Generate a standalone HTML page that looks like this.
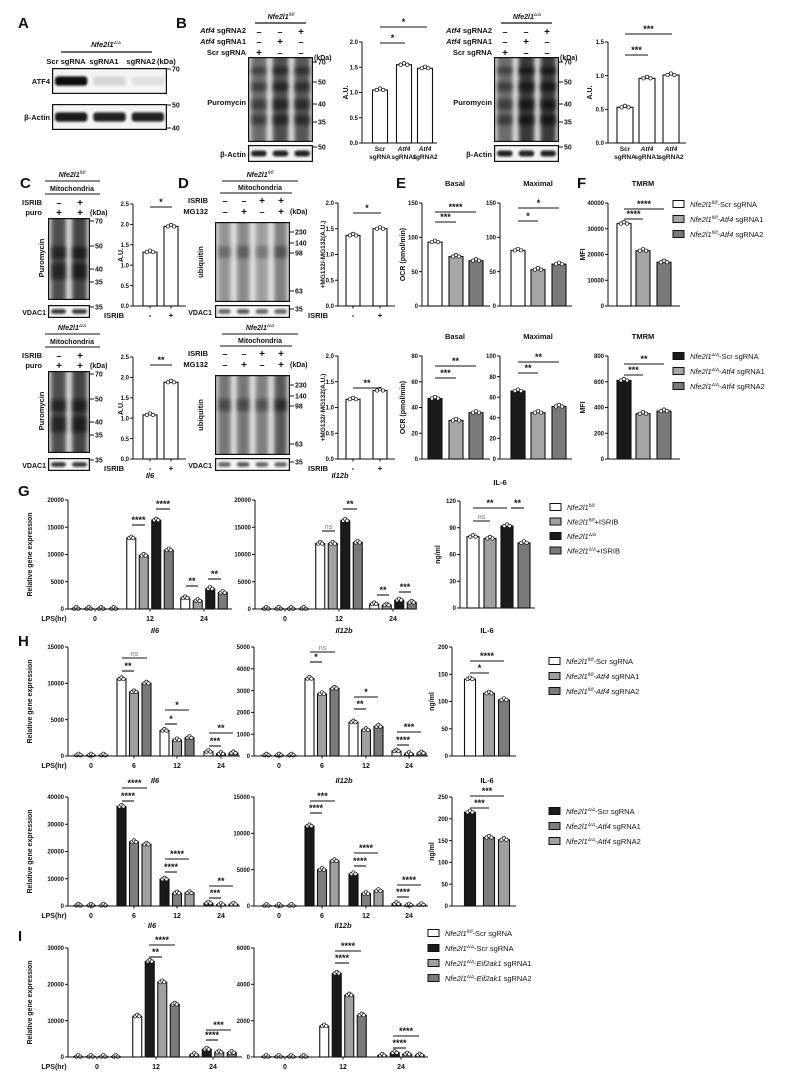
<!DOCTYPE html>
<html><head><meta charset="utf-8">
<style>body{margin:0;background:#fff}svg{display:block;font-family:"Liberation Sans",Arial,sans-serif}</style>
</head><body>
<svg id="fig" width="786" height="1084" viewBox="0 0 786 1084" xmlns="http://www.w3.org/2000/svg">
<defs>
<filter id="bl" x="-30%" y="-80%" width="160%" height="260%"><feGaussianBlur stdDeviation="2"/></filter>
<filter id="bl1" x="-30%" y="-80%" width="160%" height="260%"><feGaussianBlur stdDeviation="1"/></filter>
</defs>
</svg>
<script>
// ---------------- DATA ----------------
const tB1=[0,0.5,1.0,1.5,2.0]; const tB1L=['0.0','0.5','1.0','1.5','2.0'];
const tB2=[0,0.5,1.0,1.5]; const tB2L=['0.0','0.5','1.0','1.5'];
const tC=[0,0.5,1.0,1.5,2.0,2.5]; const tCL=['0.0','0.5','1.0','1.5','2.0','2.5'];
const catsB=['Scr sgRNA','Atf4 sgRNA1','Atf4 sgRNA2'];
const valsB1=[1.05,1.55,1.48];
const valsB2=[0.53,0.96,1.01];
const catsISRIB=['-','+'];
const valsCtop=[1.32,1.95];
const valsCbot=[1.08,1.88];
const valsDtop=[1.37,1.50];
const valsDbot=[1.16,1.33];
const tE150=[0,50,100,150]; const tE80=[0,20,40,60,80]; const tE100=[0,20,40,60,80,100];
const tF40k=[0,10000,20000,30000,40000]; const tF800=[0,200,400,600,800];
const valsBasalTop=[93,72,66], valsMaxTop=[81,53,61], valsTmrmTop=[32000,21500,17000];
const valsBasalBot=[47,30,36], valsMaxBot=[66,45,51], valsTmrmBot=[610,352,372];
const catsG=['0','12','24'];
const gIl6=[[50,13000,2000],[50,9800,1500],[50,16300,3700],[50,10800,3000]];
const gIl12b=[[50,12000,900],[50,12000,700],[50,16200,1600],[50,12200,1200]];
const gIL6=[80,78,92,73];
const t20k=[0,5000,10000,15000,20000]; const t120=[0,30,60,90,120];
const catsH=['0','6','12','24'];
const hTopIl6=[[100,10600,3500,600],[100,8800,2200,300],[100,10000,2500,400]];
const hTopIl12b=[[30,3550,1550,220],[30,2850,1200,100],[30,3100,1350,130]];
const hTopIL6=[141,115,103];
const hBotIl6=[[200,36500,9800,1000],[200,23500,4700,500],[200,22600,4800,600]];
const hBotIl12b=[[50,11000,4400,300],[50,5000,1700,100],[50,6200,2100,150]];
const hBotIL6=[215,157,152];
const t15k=[0,5000,10000,15000]; const t5k=[0,1000,2000,3000,4000,5000]; const t200=[0,50,100,150,200];
const t40k=[0,10000,20000,30000,40000]; const t250=[0,50,100,150,200,250];
const iIl6=[[100,11200,600],[100,26300,2100],[100,20600,1300],[100,14500,1200]];
const iIl12b=[[20,1700,80],[20,4600,230],[20,3400,150],[20,2300,100]];
const t30k=[0,10000,20000,30000]; const t6k=[0,2000,4000,6000];

// ---------------- HELPERS ----------------
const NS='http://www.w3.org/2000/svg';
const root=document.getElementById('fig');
function mk(tag,attrs,parent){const e=document.createElementNS(NS,tag);for(const k in attrs)e.setAttribute(k,attrs[k]);(parent||root).appendChild(e);return e;}
function txt(x,y,s,size,anchor,name,opt){
  opt=opt||{};
  const e=mk('text',{x:x,y:y,'font-size':size,'text-anchor':anchor||'start','font-weight':opt.w||'bold',fill:opt.fill||'#111'});
  e.innerHTML=s;
  if(opt.rot) e.setAttribute('transform','rotate(-90 '+x+' '+y+')');
  if(opt.it) e.setAttribute('font-style','italic');
  
  
  return e;
}
function gene(sup,rest){return '<tspan font-style="italic">Nfe2l1</tspan><tspan font-size="4.5" dy="-3" font-style="italic" font-weight="normal">'+sup+'</tspan><tspan dy="3">'+(rest||'')+'</tspan>';}
function line(x1,y1,x2,y2,name,sw,col){const e=mk('line',{x1:x1,y1:y1,x2:x2,y2:y2,stroke:col||'#111','stroke-width':sw||1});
  
  return e;}
function fmt(v){return String(v);}

function barChart(c){
  const g=mk('g',{});
  
  
  const y=v=>c.yBot-(v/c.max)*(c.yBot-c.yTop);
  line(c.ax,c.yTop,c.ax,c.yBot,'y-axis',1);
  line(c.ax,c.yBot,c.xEnd,c.yBot,'x-axis',1);
  c.ticks.forEach((t,i)=>{
    line(c.ax-3,y(t),c.ax,y(t),'y-tick',1);
    txt(c.ax-4,y(t)+2.2,c.tickLabels?c.tickLabels[i]:fmt(t),6,'end','y-tick-label');
  });
  const n=c.series.length;
  c.series.forEach((vals,si)=>{
    vals.forEach((v,ci)=>{
      const cx=c.centers[ci]+(si-(n-1)/2)*(c.step||0);
      const col=c.colorByCat?c.colors[ci]:c.colors[si];
      const yy=y(v);
      const r=mk('rect',{x:cx-c.bw/2,y:yy,width:c.bw,height:Math.max(0.5,c.yBot-yy),fill:col,stroke:'#111','stroke-width':1.1},g);
      
      
      [-2.6,0,2.6].forEach((dx,k)=>{
        const d=mk('circle',{cx:cx+dx*(c.bw/12),cy:yy-(k===1?1.5:0),r:1.7,fill:'#fff',stroke:'#111','stroke-width':0.7},g);
        
        
      });
    });
  });
  if(c.catLabels) c.catLabels.forEach((l,ci)=>{
    line(c.centers[ci],c.yBot,c.centers[ci],c.yBot+2.5,'x-tick',1);
    txt(c.centers[ci],c.yBot+12,l,c.catSize||7,'middle','x-tick-label');
  });
  if(c.title) txt(c.titleX,c.titleY,c.title,7.5,'middle','chart-title',{it:c.titleIt});
  if(c.ylabel) txt(c.ylabelX,(c.yTop+c.yBot)/2,c.ylabel,c.ylabelSize||7,'middle','y-axis-title',{rot:1});
  if(c.lps) txt(c.ax-14,c.yBot+12,'LPS(hr)',7,'middle','x-axis-title');
}
function sig(x1,x2,y,s,gray){line(x1,y,x2,y,'significance-bar',1.1);txt((x1+x2)/2,y-2,s,gray?7:9,'middle','significance-label',{fill:gray?'#777':'#111',w:gray?'normal':'bold'});}
function kda(x,y,l){line(x,y,x+4,y,'kda-tick',1);txt(x+5,y+2.5,l,7,'start','kda-label');}
function blot(name,x,y,w,h,n,kind,intens,bands){
  const s=mk('svg',{x:x,y:y,width:w,height:h});
  
  
  mk('rect',{x:0,y:0,width:w,height:h,fill:kind==='band'?'#f4f4f4':'#e6e6e6'},s);
  const lw=w/n;
  for(let i=0;i<n;i++){
    const lx=i*lw;
    if(kind==='smear'){
      mk('rect',{x:lx+3,y:-4,width:lw-6,height:h+8,fill:'#1a1a1a',opacity:intens[i],filter:'url(#bl)'},s);
      (bands||[]).forEach(b=>mk('rect',{x:lx+3,y:b[0]*h,width:lw-6,height:b[1]*h,fill:'#000',opacity:intens[i]*0.7,filter:'url(#bl)'},s));
    }else{
      mk('rect',{x:lx+3,y:h*0.32,width:lw-6,height:h*0.36,fill:'#111',opacity:intens[i],filter:'url(#bl1)',rx:3},s);
    }
  }
  mk('rect',{x:0.6,y:0.6,width:w-1.2,height:h-1.2,fill:'none',stroke:'#111','stroke-width':1.2},s);
}
function signRow(xs,y,arr){arr.forEach((s,i)=>txt(xs[i],y,s==='+'?'+':'–',s==='+'?10:9,'middle','sign'));}

// ---------------- PANEL LETTERS ----------------
[['A',18,28],['B',176,28],['C',20,188],['D',178,188],['E',396,188],['F',577,188],['G',18,496],['H',18,646],['I',18,941]].forEach(p=>txt(p[1],p[2],p[0],15,'start','panel-letter-'+p[0].toLowerCase()));

// ---------------- A ----------------
txt(106,47,gene('Δ/Δ'),7.5,'middle','a-genotype-title');
line(61,52,152,52,'a-title-bar',1.2);
txt(66,64,'Scr sgRNA',7.5,'middle','lane-label');txt(104,64,'sgRNA1',7.5,'middle','lane-label');txt(141,64,'sgRNA2',7.5,'middle','lane-label');txt(157,64,'(kDa)',7.5,'start','kda-unit');
blot('atf4-blot',52,68,115,26,3,'band',[1,0.12,0.08]);
blot('actin-blot-a',52,104,115,26,3,'band',[0.95,0.9,0.9]);
txt(50,84,'ATF4',7.5,'end','row-label');txt(50,120,'β-Actin',7.5,'end','row-label');
kda(167,69,'70');kda(167,105,'50');kda(167,128,'40');

// ---------------- B blots ----------------
function bBlot(x,title,vals){
  txt(x+33,19,gene(title),7,'middle','b-genotype-title');
  line(x+7,23,x+58,23,'b-title-bar',1.2);
  const xs=[x+11,x+32,x+53];
  txt(x-2,33,'<tspan font-style="italic">Atf4</tspan> sgRNA2',7.5,'end','row-label');
  txt(x-2,44,'<tspan font-style="italic">Atf4</tspan> sgRNA1',7.5,'end','row-label');
  txt(x-2,55,'Scr sgRNA',7.5,'end','row-label');
  signRow(xs,35,['-','-','+']);signRow(xs,45,['-','+','-']);signRow(xs,56,['+','-','-']);
  txt(x+66,60,'(kDa)',7,'start','kda-unit');
  blot('puromycin-blot',x,57,65,85,3,'smear',vals,[[0.12,0.08],[0.3,0.1],[0.5,0.12],[0.68,0.12]]);
  blot('actin-blot-b',x,145,65,17,3,'band',[0.9,0.9,0.9]);
  txt(x-2,105,'Puromycin',7.5,'end','row-label');txt(x-2,157,'β-Actin',7.5,'end','row-label');
  kda(x+65,62,'70');kda(x+65,82,'50');kda(x+65,104,'40');kda(x+65,122,'35');kda(x+65,147,'50');
}
bBlot(248,'fl/fl',[0.6,0.75,0.7]);
bBlot(494,'Δ/Δ',[0.6,0.85,0.85]);
function bLabels(cs){cs.forEach((cx,i)=>{txt(cx,151,i===0?'Scr':'<tspan font-style="italic">Atf4</tspan>',6.5,'middle','x-tick-label');txt(cx,159,i===0?'sgRNA':'sgRNA'+i,6.5,'middle','x-tick-label');});}
barChart({name:'b-chart-fl',ax:362,xEnd:437,yTop:42,yBot:143,max:2.0,ticks:tB1,tickLabels:tB1L,centers:[380,404,425],bw:15,series:[valsB1],colors:['#fff','#fff','#fff'],colorByCat:true,ylabel:'A.U.',ylabelX:348});
bLabels([380,404,425]);
sig(380,427,27,'*');sig(380,405,43,'*');
barChart({name:'b-chart-dd',ax:608,xEnd:686,yTop:42,yBot:143,max:1.5,ticks:tB2,tickLabels:tB2L,centers:[625,647,671],bw:16,series:[valsB2],colors:['#fff','#fff','#fff'],colorByCat:true,ylabel:'A.U.',ylabelX:592});
bLabels([625,647,671]);
sig(625,672,34,'***');sig(625,648,55,'***');

// ---------------- C & D ----------------
function cdRow(dy,sup,cv,dv,cs,ds){
  txt(72,177+dy,gene(sup),7,'middle','c-genotype-title');line(45,181+dy,100,181+dy,'title-bar',1.1);
  txt(72,191+dy,'Mitochondria',7,'middle','c-fraction-title');line(45,194+dy,100,194+dy,'title-bar',1.1);
  txt(42,205+dy,'ISRIB',7.5,'end','row-label');txt(42,215+dy,'puro',7.5,'end','row-label');
  signRow([59,80],206+dy,['-','+']);signRow([59,80],216+dy,['+','+']);
  txt(90,215+dy,'(kDa)',7,'start','kda-unit');
  blot('c-puromycin-blot',48,218+dy,42,82,2,'smear',[0.75,0.8],[[0.35,0.15],[0.55,0.2]]);
  blot('c-vdac1-blot',48,305+dy,42,13,2,'band',[0.8,0.8]);
  txt(44,258+dy,'Puromycin',7.5,'middle','row-label',{rot:1});
  txt(46,315+dy,'VDAC1',7,'end','row-label');
  kda(90,221+dy,'70');kda(90,246+dy,'50');kda(90,269+dy,'40');kda(90,282+dy,'35');kda(90,307+dy,'35');
  barChart({name:'c-chart',ax:133,xEnd:186,yTop:204+dy,yBot:306+dy,max:2.5,ticks:tC,tickLabels:tCL,centers:[150,171],bw:14,series:[cv],colors:['#fff','#fff'],colorByCat:true,catLabels:catsISRIB,catSize:8,ylabel:'A.U.',ylabelX:123});
  txt(104,318+dy,'ISRIB',7.5,'start','x-axis-title');
  sig(150,172,207+dy+(dy?5:0),cs);
  txt(260,177+dy,gene(sup),7,'middle','d-genotype-title');line(222,181+dy,298,181+dy,'title-bar',1.1);
  txt(260,190+dy,'Mitochondria',7,'middle','d-fraction-title');line(220,193+dy,292,193+dy,'title-bar',1.1);
  txt(208,203+dy,'ISRIB',7.5,'end','row-label');txt(208,214+dy,'MG132',7.5,'end','row-label');
  signRow([225,244,262,281],204+dy,['-','-','+','+']);signRow([225,244,262,281],215+dy,['-','+','-','+']);
  txt(290,214+dy,'(kDa)',7,'start','kda-unit');
  blot('d-ubiquitin-blot',215,222+dy,75,80,4,'smear',dy?[0.55,0.55,0.5,0.7]:[0.4,0.45,0.35,0.5],[[0.3,0.15]]);
  blot('d-vdac1-blot',215,305+dy,75,13,4,'band',[0.6,0.65,0.6,0.6]);
  txt(203,262+dy,'ubiquitin',7.5,'middle','row-label',{rot:1});
  txt(212,315+dy,'VDAC1',7,'end','row-label');
  kda(290,232+dy,'230');kda(290,243+dy,'140');kda(290,253+dy,'98');kda(290,291+dy,'63');kda(290,309+dy,'35');
  barChart({name:'d-chart',ax:338,xEnd:395,yTop:203+dy,yBot:306+dy,max:2.0,ticks:tB1,tickLabels:tB1L,centers:[353,380],bw:14,series:[dv],colors:['#fff','#fff'],colorByCat:true,catLabels:catsISRIB,catSize:8,ylabel:'+MG132/-MG132(A.U.)',ylabelX:325,ylabelSize:6.5});
  txt(308,318+dy,'ISRIB',7.5,'start','x-axis-title');
  sig(353,381,dy?235+dy:213+dy,ds);
}
cdRow(0,'fl/fl',valsCtop,valsDtop,'*','*');
cdRow(153,'Δ/Δ',valsCbot,valsDbot,'**','**');

// ---------------- E & F ----------------
const cTop=['#fff','#a6a6a6','#7a7a7a'], cBot=['#1a1a1a','#a6a6a6','#7a7a7a'];
function efRow(dy,cols,basal,maxi,tm,tb,tm2,tt){
  barChart({name:'e-basal-chart',ax:422,xEnd:490,yTop:203+dy,yBot:306+dy,max:tb[tb.length-1],ticks:tb,centers:[435,456,476],bw:14,series:[basal],colors:cols,colorByCat:true,ylabel:'OCR (pmol/min)',ylabelX:405,title:'Basal',titleX:455,titleY:186+dy});
  barChart({name:'e-maximal-chart',ax:500,xEnd:572,yTop:203+dy,yBot:306+dy,max:tm2[tm2.length-1],ticks:tm2,centers:[518,538,559],bw:14,series:[maxi],colors:cols,colorByCat:true,title:'Maximal',titleX:538,titleY:186+dy});
  barChart({name:'f-tmrm-chart',ax:608,xEnd:680,yTop:203+dy,yBot:306+dy,max:tt[tt.length-1],ticks:tt,centers:[624,643,664],bw:14,series:[tm],colors:cols,colorByCat:true,ylabel:'MFI',ylabelX:585,title:'TMRM',titleX:643,titleY:186+dy});
}
efRow(0,cTop,valsBasalTop,valsMaxTop,valsTmrmTop,tE150,tE150,tF40k);
efRow(153,cBot,valsBasalBot,valsMaxBot,valsTmrmBot,tE80,tE100,tF800);
sig(435,476,212,'****');sig(435,456,222,'***');sig(518,559,208,'*');sig(518,538,221,'*');sig(624,664,209,'****');sig(624,643,219,'****');
sig(435,476,366,'**');sig(435,456,378,'***');sig(518,559,362,'**');sig(518,538,373,'**');sig(624,664,364,'**');sig(624,643,375,'***');

function legend(x,y0,dy,items,cols,name){
  items.forEach((s,i)=>{
    const r=mk('rect',{x:x,y:y0+i*dy-3.5,width:11,height:7,fill:cols[i],stroke:'#111','stroke-width':1});
    
    
    txt(x+17,y0+i*dy+3,s,7.5,'start',name+'-entry',{w:'normal'});
  });
}
const atf=(sup,n)=>gene(sup,'-<tspan font-style="italic">Atf4</tspan> sgRNA'+n);
legend(673,204,15,[gene('fl/fl','-Scr sgRNA'),atf('fl/fl',1),atf('fl/fl',2)],cTop,'legend-ef-top');
legend(673,356,15,[gene('Δ/Δ','-Scr sgRNA'),atf('Δ/Δ',1),atf('Δ/Δ',2)],cBot,'legend-ef-bottom');

// ---------------- G ----------------
const cG=['#fff','#a0a0a0','#1a1a1a','#7a7a7a'];
barChart({name:'g-il6-chart',ax:68,xEnd:232,yTop:500,yBot:609,max:20000,ticks:t20k,centers:[95,150,204],bw:9,step:12.5,series:gIl6,colors:cG,catLabels:catsG,title:'Il6',titleIt:1,titleX:150,titleY:478,ylabel:'Relative gene expression',ylabelX:32,lps:1});
barChart({name:'g-il12b-chart',ax:255,xEnd:412,yTop:500,yBot:609,max:20000,ticks:t20k,centers:[285,339,393],bw:9,step:12.5,series:gIl12b,colors:cG,catLabels:catsG,title:'Il12b',titleIt:1,titleX:340,titleY:478});
barChart({name:'g-il6-elisa-chart',ax:460,xEnd:535,yTop:501,yBot:608,max:120,ticks:t120,centers:[473,490,507,524],bw:12,series:[gIL6],colors:cG,colorByCat:true,title:'IL-6',titleX:500,titleY:485,ylabel:'ng/ml',ylabelX:440});
sig(132,145,525,'****');sig(156,170,509,'****');sig(186,198,586,'**');sig(208,221,579,'**');
sig(322,335,531,'ns',1);sig(343,357,509,'**');sig(377,389,595,'**');sig(399,411,592,'***');
sig(473,490,521,'ns',1);sig(473,507,508,'**');sig(511,524,508,'**');
legend(550,507,14.5,[gene('fl/fl'),gene('fl/fl','+ISRIB'),gene('Δ/Δ'),gene('Δ/Δ','+ISRIB')],cG,'legend-g');

// ---------------- H ----------------
const cHt=['#fff','#a0a0a0','#7a7a7a'], cHb=['#1a1a1a','#7e7e7e','#a0a0a0'];
function hRow(dy,cols,il6,il12,elisa,ta,tb,tc){
  barChart({name:'h-il6-chart',ax:68,xEnd:240,yTop:647+dy,yBot:756+dy,max:ta[ta.length-1],ticks:ta,centers:[91,134,177,221],bw:9,step:12.5,series:il6,colors:cols,catLabels:catsH,title:'Il6',titleIt:1,titleX:155,titleY:633+dy,ylabel:'Relative gene expression',ylabelX:32,lps:1});
  barChart({name:'h-il12b-chart',ax:254,xEnd:428,yTop:647+dy,yBot:756+dy,max:tb[tb.length-1],ticks:tb,centers:[279,322,366,409],bw:9,step:12.5,series:il12,colors:cols,catLabels:catsH,title:'Il12b',titleIt:1,titleX:344,titleY:633+dy});
  barChart({name:'h-il6-elisa-chart',ax:452,xEnd:516,yTop:647+dy,yBot:756+dy,max:tc[tc.length-1],ticks:tc,centers:[470,489,504],bw:11,series:[elisa],colors:cols,colorByCat:true,title:'IL-6',titleX:487,titleY:633+dy,ylabel:'ng/ml',ylabelX:434});
}
hRow(0,cHt,hTopIl6,hTopIl12b,hTopIL6,t15k,t5k,t200);
hRow(150,cHb,hBotIl6,hBotIl12b,hBotIL6,t40k,t15k,t250);
sig(122,134,671,'**');sig(122,147,658,'ns',1);sig(165,177,724,'*');sig(165,189,710,'*');sig(209,221,746,'***');sig(209,233,733,'**');
sig(310,322,662,'*');sig(310,335,652,'ns',1);sig(354,366,709,'**');sig(354,378,697,'*');sig(397,409,745,'****');sig(397,421,732,'***');
sig(470,489,673,'*');sig(470,504,661,'****');
sig(122,134,801,'****');sig(122,147,788,'****');sig(165,177,872,'****');sig(165,189,859,'****');sig(209,221,898,'***');sig(209,233,886,'**');
sig(310,322,813,'****');sig(310,335,801,'***');sig(354,366,866,'****');sig(354,378,853,'****');sig(397,409,897,'****');sig(397,421,885,'****');
sig(470,489,808,'***');sig(470,504,796,'***');
legend(549,661,15,[gene('fl/fl','-Scr sgRNA'),atf('fl/fl',1),atf('fl/fl',2)],cHt,'legend-h-top');
legend(549,811,15,[gene('Δ/Δ','-Scr sgRNA'),atf('Δ/Δ',1),atf('Δ/Δ',2)],cHb,'legend-h-bottom');

// ---------------- I ----------------
const cI=['#fff','#1a1a1a','#a0a0a0','#7a7a7a'];
barChart({name:'i-il6-chart',ax:68,xEnd:242,yTop:948,yBot:1057,max:30000,ticks:t30k,centers:[97,156,213],bw:9,step:12.5,series:iIl6,colors:cI,catLabels:catsG,title:'Il6',titleIt:1,titleX:152,titleY:928,ylabel:'Relative gene expression',ylabelX:32,lps:1});
barChart({name:'i-il12b-chart',ax:254,xEnd:428,yTop:948,yBot:1057,max:6000,ticks:t6k,centers:[285,343,401],bw:9,step:12.5,series:iIl12b,colors:cI,catLabels:catsG,title:'Il12b',titleIt:1,titleX:343,titleY:928});
sig(149,162,957,'**');sig(149,175,945,'****');sig(206,218,1040,'****');sig(206,231,1030,'***');
sig(335,349,963,'****');sig(335,361,951,'****');sig(393,406,1048,'****');sig(393,419,1036,'****');
const eif=n=>gene('Δ/Δ','-<tspan font-style="italic">Eif2ak1</tspan> sgRNA'+n);
legend(428,933,15,[gene('fl/fl','-Scr sgRNA'),gene('Δ/Δ','-Scr sgRNA'),eif(1),eif(2)],cI,'legend-i');
</script>
</body></html>
